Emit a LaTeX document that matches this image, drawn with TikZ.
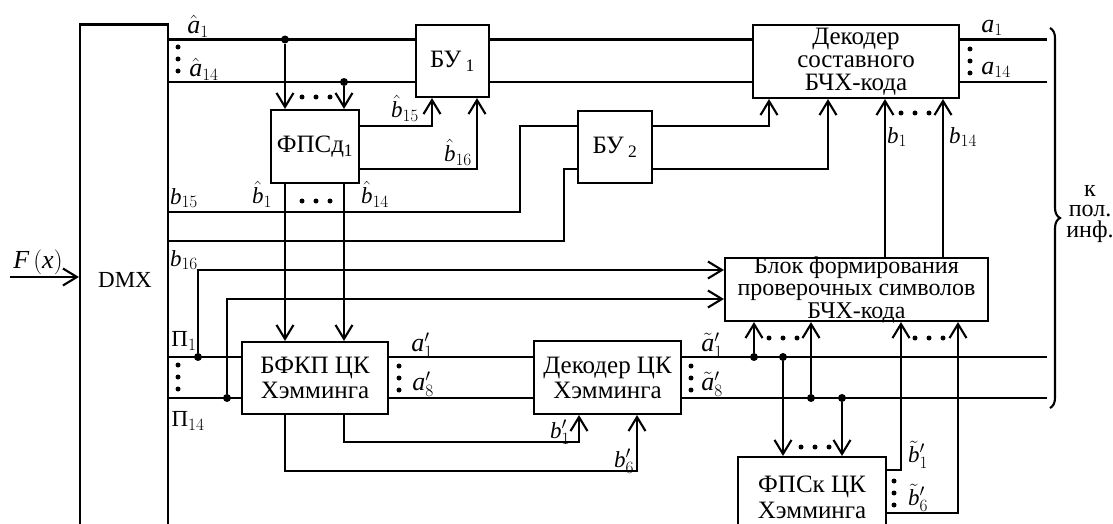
\documentclass[tikz,border=0pt]{standalone}
\usepackage{fontspec}
\setmainfont{Liberation Serif}
\usetikzlibrary{arrows.meta,decorations.pathreplacing}
\newcommand\tightlines{\setlength{\lineskiplimit}{-30pt}}
\tikzset{
  wire/.style={line width=2.1pt},
  arr/.style={line width=2.1pt,-{Straight Barb[length=14pt,width=17pt]}},
  box/.style={draw,line width=2.1pt,inner sep=0pt},
  txt/.style={inner sep=0pt,align=center,font=\fontsize{25}{25}\selectfont\tightlines},
  lab/.style={inner sep=0pt,font=\fontsize{23}{23}\selectfont},
  laba/.style={inner sep=0pt,font=\fontsize{26}{26}\selectfont},
  jdot/.style={circle,fill,inner sep=0pt,minimum size=8pt},
  hd/.pic={\foreach \i in {-14,0,14} \fill (\i,0) circle (2.5pt);},
  vd/.pic={\foreach \i in {-12,0,12} \fill (0,\i) circle (2.5pt);}
}
\begin{document}
\begin{tikzpicture}[x=1pt,y=-1pt]
\useasboundingbox (0,0) rectangle (1113,524);
\clip (0,0) rectangle (1113,524);
% level coordinates
\coordinate (Ya1) at (0,39.5);
\coordinate (Ya14) at (0,82);
\coordinate (Yh15) at (0,126);
\coordinate (Yh16) at (0,169);
\coordinate (Yb15) at (0,212);
\coordinate (Yb241) at (0,241);
\coordinate (Yb16) at (0,270);
\coordinate (Y299) at (0,299);
\coordinate (YP1) at (0,357);
\coordinate (YP14) at (0,398);
\coordinate (Y442) at (0,442);
\coordinate (Y471) at (0,471);
\coordinate (Yt1) at (0,470);
\coordinate (Yt6) at (0,513);
\coordinate (Xj1) at (285,0);
\coordinate (Xj2) at (344,0);
\coordinate (Xu1) at (432,0);
\coordinate (Xu2) at (477,0);
\coordinate (Xd1) at (769,0);
\coordinate (Xd2) at (828,0);
\coordinate (Xb1) at (885,0);
\coordinate (Xb14) at (943,0);
\coordinate (Xh1) at (579,0);
\coordinate (Xh6) at (637,0);
\coordinate (Xk1) at (754,0);
\coordinate (Xk2) at (783,0);
\coordinate (Xk3) at (811,0);
\coordinate (Xk4) at (842,0);
\coordinate (Xt1) at (901,0);
\coordinate (Xt6) at (958,0);
\coordinate (Xend) at (1047,0);
\coordinate (fin) at (10,277);

% blocks
\node[box,minimum width=88pt,minimum height=511pt] (dmx) at (124,280) {};
\node[box,minimum width=88pt,minimum height=73pt] (fpsd) at (315,146.5) {};
\node[box,minimum width=73pt,minimum height=72pt] (bu1) at (452.5,61) {};
\node[box,minimum width=74pt,minimum height=72pt] (bu2) at (615,147) {};
\node[box,minimum width=206pt,minimum height=73pt] (dec) at (856,61.5) {};
\node[box,minimum width=263pt,minimum height=63pt] (blk) at (856.5,289.5) {};
\node[box,minimum width=146pt,minimum height=72pt] (bfkp) at (315,378) {};
\node[box,minimum width=147pt,minimum height=73pt] (dech) at (607.5,377.5) {};
\node[box,minimum width=148pt,minimum height=82pt] (fpsk) at (812,498) {};

% block texts
\node[txt,font=\fontsize{23}{23}\selectfont] (tdmx) at (125,280) {DMX};
\node[txt] (tfpsd) at (fpsd.center) {ФПСд\textsubscript{1}};
\node[txt] (tbu1) at (bu1.center) {БУ\,\textsubscript{1}};
\node[txt] (tbu2) at (bu2.center) {БУ\,\textsubscript{2}};
\node[txt,font=\fontsize{25}{23}\selectfont\tightlines] (tdec) at (dec.center) {Декодер\\составного\\БЧХ-кода};
\node[txt,font=\fontsize{24}{22.5}\selectfont\tightlines] (tblk) at (blk.center) {Блок формирования\\проверочных символов\\БЧХ-кода};
\node[txt] (tbfkp) at (bfkp.center) {БФКП ЦК\\Хэмминга};
\node[txt] (tdech) at (dech.center) {Декодер ЦК\\Хэмминга};
\node[txt,font=\fontsize{25}{26}\selectfont\tightlines] (tfpsk) at (812,497) {ФПСк ЦК\\Хэмминга};

% junctions
\node[jdot] (dj1) at (Xj1 |- Ya1) {};
\node[jdot] (dj2) at (Xj2 |- Ya14) {};
\node[jdot] (dp1) at (198,357) {};
\node[jdot] (dp2) at (227,398) {};
\node[jdot] (dk1) at (Xk1 |- YP1) {};
\node[jdot] (dk2) at (Xk2 |- YP1) {};
\node[jdot] (dk3) at (Xk3 |- YP14) {};
\node[jdot] (dk4) at (Xk4 |- YP14) {};

% input
\draw[arr] (fin) -- (dmx.west |- fin);

% top buses
\draw[wire] (dmx.east |- Ya1) -- (bu1.west |- Ya1);
\draw[wire] (dmx.east |- Ya14) -- (bu1.west |- Ya14);
\draw[wire] (bu1.east |- Ya1) -- (dec.west |- Ya1);
\draw[wire] (bu1.east |- Ya14) -- (dec.west |- Ya14);
\draw[arr] (dj1) -- (fpsd.north -| Xj1);
\draw[arr] (dj2) -- (fpsd.north -| Xj2);
\draw[arr] (fpsd.east |- Yh15) -| (bu1.south -| Xu1);
\draw[arr] (fpsd.east |- Yh16) -| (bu1.south -| Xu2);
\draw[arr] (fpsd.south -| Xj1) -- (bfkp.north -| Xj1);
\draw[arr] (fpsd.south -| Xj2) -- (bfkp.north -| Xj2);
\draw[wire] (dmx.east |- Yb15) -- (520,212) |- (bu2.west |- Yh15);
\draw[wire] (dmx.east |- Yb241) -- (564,241) |- (bu2.west |- Yh16);
\draw[arr] (bu2.east |- Yh15) -| (dec.south -| Xd1);
\draw[arr] (bu2.east |- Yh16) -| (dec.south -| Xd2);
\draw[arr] (blk.north -| Xb1) -- (dec.south -| Xb1);
\draw[arr] (blk.north -| Xb14) -- (dec.south -| Xb14);
\draw[wire] (dec.east |- Ya1) -- (Xend |- Ya1);
\draw[wire] (dec.east |- Ya14) -- (Xend |- Ya14);

% lower part
\draw[wire] (dmx.east |- YP1) -- (bfkp.west |- YP1);
\draw[wire] (dmx.east |- YP14) -- (bfkp.west |- YP14);
\draw[arr] (dp1) |- (blk.west |- Yb16);
\draw[arr] (dp2) |- (blk.west |- Y299);
\draw[wire] (bfkp.east |- YP1) -- (dech.west |- YP1);
\draw[wire] (bfkp.east |- YP14) -- (dech.west |- YP14);
\draw[arr] (bfkp.south -| Xj1) |- (Y471 -| Xh6) -- (dech.south -| Xh6);
\draw[arr] (bfkp.south -| Xj2) |- (Y442 -| Xh1) -- (dech.south -| Xh1);
\draw[wire] (dech.east |- YP1) -- (Xend |- YP1);
\draw[wire] (dech.east |- YP14) -- (Xend |- YP14);
\draw[arr] (dk1) -- (blk.south -| Xk1);
\draw[arr] (dk3) -- (blk.south -| Xk3);
\draw[arr] (dk2) -- (fpsk.north -| Xk2);
\draw[arr] (dk4) -- (fpsk.north -| Xk4);
\draw[arr] (fpsk.east |- Yt1) -| (blk.south -| Xt1);
\draw[arr] (fpsk.east |- Yt6) -| (blk.south -| Xt6);

% brace
\draw[line width=2.1pt,decorate,decoration={brace,amplitude=10pt}] (1050,28) -- (1050,408);
\node[txt,font=\fontsize{24}{20.5}\selectfont\tightlines] (lk) at (1090,214) {к\\пол.\\инф.};

% dots
\pic at (316,97) {hd};
\pic at (316,201) {hd};
\pic at (915,113) {hd};
\pic at (783,338) {hd};
\pic at (929,338) {hd};
\pic at (815,447) {hd};
\pic at (178,59) {vd};
\pic at (178,377) {vd};
\pic at (399,378) {vd};
\pic at (691,378) {vd};
\pic at (970,61) {vd};
\pic at (894,493) {vd};

% labels
\node[laba] (la1) at (198,26) {$\hat{\mathit{a}}_1$};
\node[laba] (la14) at (204,69) {$\hat{\mathit{a}}_{14}$};
\node[lab] (lh15) at (405,108) {$\hat{\mathit{b}}_{15}$};
\node[lab] (lh16) at (458,152) {$\hat{\mathit{b}}_{16}$};
\node[lab] (lh1) at (262,194) {$\hat{\mathit{b}}_1$};
\node[lab] (lh14) at (375,194) {$\hat{\mathit{b}}_{14}$};
\node[lab] (lb15) at (184,198) {$\mathit{b}_{15}$};
\node[lab] (lb16) at (184,260) {$\mathit{b}_{16}$};
\node[lab] (lp1) at (184,341) {П$_1$};
\node[lab] (lp14) at (188,421) {П$_{14}$};
\node[laba] (lq1) at (422,345) {$\mathit{a}'_1$};
\node[laba] (lq8) at (423,384) {$\mathit{a}'_8$};
\node[laba] (lt1) at (712,345) {$\tilde{\mathit{a}}'_1$};
\node[laba] (lt8) at (712,384) {$\tilde{\mathit{a}}'_8$};
\node[lab] (lr1) at (560,432) {$\mathit{b}'_1$};
\node[lab] (lr6) at (624,461) {$\mathit{b}'_6$};
\node[laba] (lo1) at (992,28) {$\mathit{a}_1$};
\node[laba] (lo14) at (996,70) {$\mathit{a}_{14}$};
\node[lab] (lc1) at (897,137) {$\mathit{b}_1$};
\node[lab] (lc14) at (963,137) {$\mathit{b}_{14}$};
\node[lab] (ls1) at (918,455) {$\tilde{\mathit{b}}'_1$};
\node[lab] (ls6) at (918,498) {$\tilde{\mathit{b}}'_6$};
\node[laba] (lf) at (38,262) {$\mathit{F}\,(\mathit{x})$};
\end{tikzpicture}
\end{document}
